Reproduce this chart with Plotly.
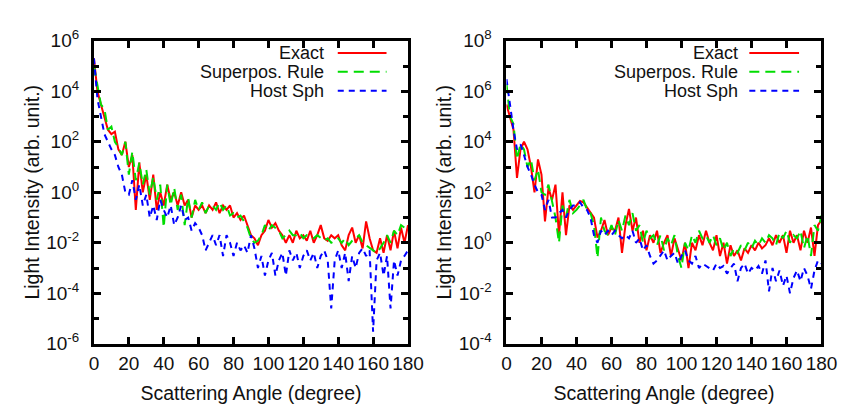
import plotly.graph_objects as go
from plotly.subplots import make_subplots

# Scattering angle grid (degrees)
angle = list(range(0, 181, 2))

# ---- Left panel ----
left_exact = [2e5, 1e4, 3e3, 1e3, 300, 200, 250, 50, 30, 100,
              10, 30, 0.2, 15, 1, 5, 0.5, 5, 0.2, 1,
              0.3, 2, 0.5, 1, 0.3, 1, 0.3, 0.5, 0.1, 0.3,
              0.2, 0.3, 0.15, 0.3, 0.2, 0.4, 0.15, 0.3, 0.2, 0.3,
              0.1, 0.15, 0.08, 0.12, 0.05, 0.02, 0.015, 0.008, 0.02, 0.03,
              0.08, 0.04, 0.06, 0.03, 0.02, 0.01, 0.02, 0.01, 0.03, 0.015,
              0.02, 0.012, 0.03, 0.01, 0.02, 0.05, 0.015, 0.012, 0.02, 0.015,
              0.02, 0.008, 0.005, 0.02, 0.04, 0.01, 0.02, 0.006, 0.07, 0.015,
              0.005, 0.004, 0.015, 0.004, 0.02, 0.005, 0.03, 0.006, 0.04, 0.01,
              0.05]
left_super = [1e5, 1.5e4, 3e3, 2e3, 300, 400, 100, 60, 30, 100,
              5, 40, 3, 15, 2, 8, 0.8, 4, 0.5, 2,
              0.04, 2, 0.3, 1.5, 0.2, 0.8, 0.05, 0.6, 0.1, 0.5,
              0.2, 0.4, 0.15, 0.3, 0.3, 0.2, 0.4, 0.2, 0.3, 0.12,
              0.15, 0.1, 0.12, 0.07, 0.04, 0.015, 0.01, 0.012, 0.02, 0.05,
              0.03, 0.05, 0.04, 0.03, 0.015, 0.02, 0.03, 0.02, 0.02, 0.025,
              0.015, 0.02, 0.018, 0.015, 0.02, 0.015, 0.012, 0.015, 0.01, 0.012,
              0.015, 0.01, 0.015, 0.008, 0.012, 0.015, 0.02, 0.01, 0.008, 0.006,
              0.005, 0.004, 0.006, 0.01, 0.02, 0.01, 0.03, 0.02, 0.05, 0.04,
              0.06]
left_host = [2e5, 5e3, 1e3, 200, 100, 50, 30, 10, 5, 1,
             0.8, 3, 0.5, 2, 0.3, 0.8, 0.1, 0.3, 0.08, 0.5,
             0.2, 0.1, 0.3, 0.05, 0.1, 0.3, 0.08, 0.1, 0.03, 0.06,
             0.04, 0.02, 0.005, 0.01, 0.02, 0.008, 0.02, 0.003, 0.02, 0.01,
             0.003, 0.01, 0.005, 0.008, 0.004, 0.02, 0.006, 0.001, 0.003, 0.0005,
             0.002, 0.004, 0.0005, 0.002, 0.004, 0.0005, 0.005, 0.002, 0.004, 0.001,
             0.003, 0.005, 0.002, 0.004, 0.001, 0.003, 0.005, 0.002, 2.5e-5, 0.002,
             0.005, 0.001, 0.004, 0.0003, 0.003, 0.001, 0.004, 0.006, 0.003, 0.005,
             3e-6, 0.002, 0.004, 0.0005, 0.003, 2.5e-5, 0.002, 0.0005, 0.002, 0.003,
             0.005]

# ---- Right panel ----
right_exact = [3e5, 1e5, 3e4, 370, 5e3, 1e4, 5e3, 1e3, 100, 2e3,
               500, 7, 150, 50, 200, 2, 100, 2, 30, 20,
               30, 45, 40, 25, 15, 10, 1.6, 3, 8, 2,
               4, 3, 10, 0.4, 5, 22, 3, 10, 1, 3,
               0.5, 2, 1, 3, 0.4, 1, 2, 0.3, 1.5, 0.5,
               0.2, 1, 0.1, 1, 0.5, 2, 0.8, 3, 1, 0.5,
               2, 0.3, 1, 0.15, 0.8, 0.3, 0.5, 0.2, 0.6, 0.4,
               0.8, 0.5, 1, 0.6, 0.8, 1.5, 0.8, 2, 1, 2,
               0.4, 3, 1, 2, 0.5, 3, 1, 4, 0.3, 5,
               8]
right_super = [2e6, 1e5, 5e4, 2e3, 8e3, 5e3, 1e3, 2e3, 300, 800,
               100, 80, 200, 40, 10, 1, 30, 10, 50, 15,
               20, 30, 50, 20, 15, 5, 0.25, 10, 3, 2,
               5, 2, 8, 3, 12, 5, 15, 3, 5, 1,
               3, 1.5, 2, 0.8, 2, 0.5, 1.5, 0.8, 2, 0.3,
               0.1, 1, 0.5, 2, 1, 3, 1.5, 2, 1, 2,
               0.8, 1.5, 0.5, 1, 0.3, 0.6, 0.4, 0.8, 0.5, 1,
               0.6, 1.2, 0.8, 1.5, 1, 2, 1.5, 0.8, 2.5, 1.5,
               3, 1, 2, 1.5, 3, 0.6, 2, 0.3, 5, 3,
               12]
right_host = [3e6, 3e5, 3e4, 5e3, 8e3, 3e3, 1e3, 500, 200, 100,
              80, 20, 50, 10, 10, 15, 20, 10, 20, 30,
              30, 40, 25, 20, 10, 2, 1, 3, 2, 3,
              2, 3, 2, 1.5, 2, 1.5, 3, 1, 1.5, 0.5,
              0.8, 0.3, 0.15, 0.2, 0.3, 0.5, 0.2, 0.3, 0.4, 0.15,
              0.3, 0.5, 0.2, 0.15, 0.3, 0.1, 0.15, 0.12, 0.1, 0.08,
              0.15, 0.1, 0.12, 0.06, 0.1, 0.15, 0.03, 0.1, 0.15, 0.06,
              0.1, 0.08, 0.12, 0.06, 0.2, 0.012, 0.1, 0.03, 0.08, 0.02,
              0.05, 0.01, 0.04, 0.08, 0.03, 0.1, 0.05, 0.015, 0.08, 0.2,
              0.15]

series_names = ["Exact", "Superpos. Rule", "Host Sph"]
series_colors = ["#ff0000", "#00dd00", "#0000ff"]
series_dash = ["solid", "10px,6px", "6px,5px"]

left_ticks = [1e-6, 1e-4, 1e-2, 1, 1e2, 1e4, 1e6]
left_ticktext = ["10<sup>-6</sup>", "10<sup>-4</sup>", "10<sup>-2</sup>", "10<sup>0</sup>",
                 "10<sup>2</sup>", "10<sup>4</sup>", "10<sup>6</sup>"]
left_minor = [1e-5, 1e-3, 1e-1, 1e1, 1e3, 1e5]
right_ticks = [1e-4, 1e-2, 1, 1e2, 1e4, 1e6, 1e8]
right_ticktext = ["10<sup>-4</sup>", "10<sup>-2</sup>", "10<sup>0</sup>", "10<sup>2</sup>",
                  "10<sup>4</sup>", "10<sup>6</sup>", "10<sup>8</sup>"]
right_minor = [1e-3, 1e-1, 1e1, 1e3, 1e5, 1e7]
x_ticks = [0, 20, 40, 60, 80, 100, 120, 140, 160, 180]

W, H = 849, 407
fig = make_subplots(rows=1, cols=2)

left_data = [left_exact, left_super, left_host]
right_data = [right_exact, right_super, right_host]
for col, data in ((1, left_data), (2, right_data)):
    for name, vals, c, d in zip(series_names, data, series_colors, series_dash):
        fig.add_trace(go.Scatter(x=angle, y=vals, mode="lines", name=name,
                                 line=dict(color=c, width=2, dash=d),
                                 showlegend=False), row=1, col=col)

FAM = "Liberation Sans, Arial, sans-serif"
tick_font = dict(family=FAM, size=19, color="#111")
title_font = dict(family=FAM, size=19.5, color="#111")
legend_font = dict(family=FAM, size=18, color="#111")
axis_common = dict(showline=True, linecolor="black", linewidth=3, mirror="ticks",
                   ticks="inside", ticklen=7, tickwidth=3, tickcolor="black",
                   showgrid=False, zeroline=False, tickfont=tick_font)

fig.update_xaxes(**axis_common, range=[0, 180], tickvals=x_ticks, ticklabelstandoff=0,
                 title=dict(text="Scattering Angle (degree)", font=title_font, standoff=14))
fig.update_xaxes(domain=[83 / W, 405 / W], row=1, col=1)
fig.update_xaxes(domain=[506 / W, 829 / W], row=1, col=2)

fig.update_yaxes(**axis_common, type="log", ticklabelstandoff=8,
                 title=dict(text="Light Intensity (arb. unit.)", font=title_font, standoff=2))
fig.update_yaxes(domain=[64 / H, 386 / H], range=[-6, 6], tickvals=left_ticks,
                 ticktext=left_ticktext,
                 minor=dict(tickvals=left_minor, ticks="inside", ticklen=5,
                            tickwidth=3, tickcolor="black"), row=1, col=1)
fig.update_yaxes(domain=[64 / H, 386 / H], range=[-4, 8], tickvals=right_ticks,
                 ticktext=right_ticktext,
                 minor=dict(tickvals=right_minor, ticks="inside", ticklen=5,
                            tickwidth=3, tickcolor="black"), row=1, col=2)

# Manual legends (text on the left, line sample on the right)
rows_y = [34, 54, 74]
for text_right, line_x0, line_x1 in ((320, 333, 383), (744, 755, 806)):
    for name, c, d, py in zip(series_names, series_colors, series_dash, rows_y):
        fig.add_annotation(x=text_right / W, y=1 - py / H, xref="paper", yref="paper",
                           text=name, showarrow=False, xanchor="right", yanchor="middle",
                           font=legend_font, borderpad=0)
        fig.add_shape(type="line", xref="paper", yref="paper",
                      x0=line_x0 / W, x1=line_x1 / W, y0=1 - py / H, y1=1 - py / H,
                      line=dict(color=c, width=2, dash=d))

fig.update_layout(width=W, height=H, margin=dict(l=0, r=0, t=0, b=0),
                  plot_bgcolor="white", paper_bgcolor="white", font=tick_font,
                  showlegend=False)

fig.write_html("out.html")
